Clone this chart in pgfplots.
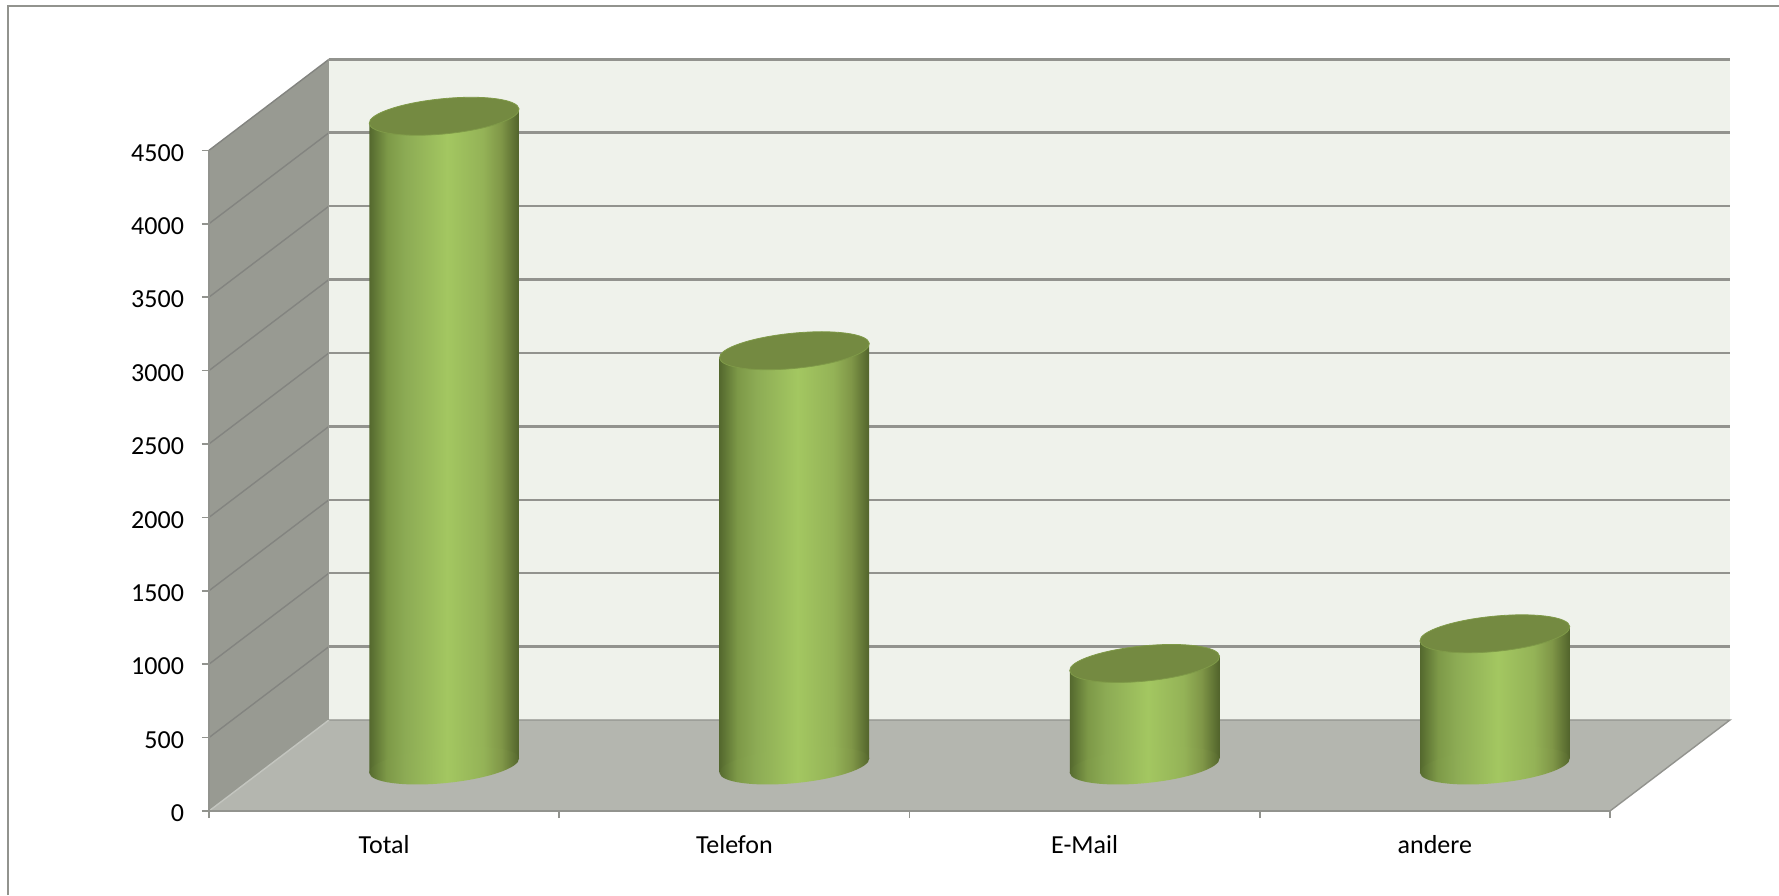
\documentclass[border=0pt]{standalone}
\usepackage{pgfplots}
\usepackage{fontspec}
\setmainfont{Carlito}
\pgfplotsset{compat=1.18}

\definecolor{backwall}{HTML}{EFF2EB}
\definecolor{sidewall}{HTML}{989A92}
\definecolor{floorcol}{HTML}{B4B6AF}
\definecolor{gridcol}{HTML}{92938E}
\definecolor{topcol}{HTML}{748A41}
\definecolor{toprim}{HTML}{7F9A48}

% cylinder body, the path fills the 25bp..75bp part of the shading
\pgfdeclarehorizontalshading{cyl}{100bp}{
  rgb(0bp)=(.33,.41,.18);
  rgb(25bp)=(.33,.41,.18);
  rgb(31bp)=(.49,.60,.28);
  rgb(37bp)=(.55,.67,.33);
  rgb(51bp)=(.64,.78,.38);
  rgb(63bp)=(.58,.70,.34);
  rgb(69bp)=(.50,.59,.28);
  rgb(75bp)=(.32,.39,.17);
  rgb(100bp)=(.32,.39,.17)}

% tilted ellipses, sizes in pt
\pgfdeclareplotmark{cyltop}{%
  \pgfpathellipse{\pgfpointorigin}{\pgfpoint{37.47pt}{3.65pt}}{\pgfpoint{-0.85pt}{8.76pt}}%
  \pgfusepathqfillstroke}
\pgfdeclareplotmark{cylbase}{%
  \pgfpathellipse{\pgfpointorigin}{\pgfpoint{37.47pt}{3.65pt}}{\pgfpoint{-0.85pt}{8.76pt}}%
  \pgfshadepath{cyl}{0}\pgfusepath{discard}}

\pgfplotsset{
  body/.style={draw=none, shade, shading=cyl, xshift=30pt, yshift=22.75pt},
  cap/.style={only marks, mark=cyltop, mark options={fill=topcol, draw=toprim, line width=0.4pt}, xshift=30pt, yshift=22.75pt},
  base/.style={only marks, mark=cylbase, xshift=30pt, yshift=22.75pt},
}

\begin{document}
\begin{tikzpicture}
\useasboundingbox (0,0) rectangle (889.5pt,447.5pt);
\draw[gridcol, line width=1pt] (4pt,0pt) -- (4pt,444.5pt) -- (889.5pt,444.5pt);
\begin{axis}[
  at={(104.5pt,42pt)}, anchor=south west,
  scale only axis, width=700.5pt, height=330.35pt,
  xmin=0, xmax=4, ymin=0, ymax=4500,
  clip=false, axis on top,
  axis x line*=bottom, axis y line*=left,
  axis line style={gridcol, line width=1.3pt, -},
  ytick={0,500,...,4500},
  xtick={0.5,1.5,2.5,3.5},
  xticklabels={Total,Telefon,E-Mail,andere},
  minor xtick={0,1,2,3,4},
  major x tick style={draw=none},
  minor x tick style={gridcol, line width=0.8pt},
  y tick style={gridcol, line width=0.8pt},
  tickwidth=3.5pt, minor tick length=3.5pt,
  tick align=outside, 
  ticklabel style={font=\fontsize{13}{15}\selectfont},
  /pgf/number format/assume math mode=true,
  /pgf/number format/1000 sep={},
  x tick label style={yshift=-5pt},
  y tick label style={xshift=-5.5pt, yshift=-1.2pt},
]
% walls and floor
\addplot[fill=sidewall, draw=none] coordinates {(0,0) (0.3426,620) (0.3426,5120) (0,4500)} --cycle;
\addplot[fill=backwall, draw=none] coordinates {(0.3426,620) (4.3426,620) (4.3426,5120) (0.3426,5120)} --cycle;
\addplot[fill=floorcol, draw=none] coordinates {(0,0) (4,0) (4.3426,620) (0.3426,620)} --cycle;
% side wall grid
\addplot[gridcol!90!black, line width=0.7pt, unbounded coords=jump] coordinates {
  (0,500) (0.3426,1120) (nan,nan)
  (0,1000) (0.3426,1620) (nan,nan)
  (0,1500) (0.3426,2120) (nan,nan)
  (0,2000) (0.3426,2620) (nan,nan)
  (0,2500) (0.3426,3120) (nan,nan)
  (0,3000) (0.3426,3620) (nan,nan)
  (0,3500) (0.3426,4120) (nan,nan)
  (0,4000) (0.3426,4620) (nan,nan)
  (0,4500) (0.3426,5120)};
% back wall grid
\addplot[gridcol, line width=1.2pt, unbounded coords=jump] coordinates {
  (0.3426,1120) (4.3426,1120) (nan,nan)
  (0.3426,1620) (4.3426,1620) (nan,nan)
  (0.3426,2120) (4.3426,2120) (nan,nan)
  (0.3426,2620) (4.3426,2620) (nan,nan)
  (0.3426,3120) (4.3426,3120) (nan,nan)
  (0.3426,3620) (4.3426,3620) (nan,nan)
  (0.3426,4120) (4.3426,4120) (nan,nan)
  (0.3426,4620) (4.3426,4620)};
\addplot[gridcol, line width=1.6pt] coordinates {(0.3426,5120) (4.3426,5120)};
% floor edges
\addplot[gridcol, line width=0.7pt] coordinates {(0.3426,620) (4.3426,620) (4,0)};
\addplot[floorcol!80!white, line width=0.7pt] coordinates {(0,0) (0.3426,620)};
\addplot[sidewall, line width=0.5pt] coordinates {(0.3426,620) (0.3426,5120)};
% cylinders: value +-47 gives the slant of the end ellipses
\addplot[base] coordinates {(0.5,0)};
\addplot[base] coordinates {(1.5,0)};
\addplot[base] coordinates {(2.5,0)};
\addplot[base] coordinates {(3.5,0)};
\addplot[body] coordinates {(0.2865,-47) (0.7135,47) (0.7135,4469) (0.2865,4375)} --cycle;
\addplot[body] coordinates {(1.2865,-47) (1.7135,47) (1.7135,2872) (1.2865,2778)} --cycle;
\addplot[body] coordinates {(2.2865,-47) (2.7135,47) (2.7135,742) (2.2865,648)} --cycle;
\addplot[body] coordinates {(3.2865,-47) (3.7135,47) (3.7135,944) (3.2865,850)} --cycle;
\addplot[cap] coordinates {(0.5,4422) (1.5,2825) (2.5,695) (3.5,897)};
\end{axis}
\end{tikzpicture}
\end{document}
